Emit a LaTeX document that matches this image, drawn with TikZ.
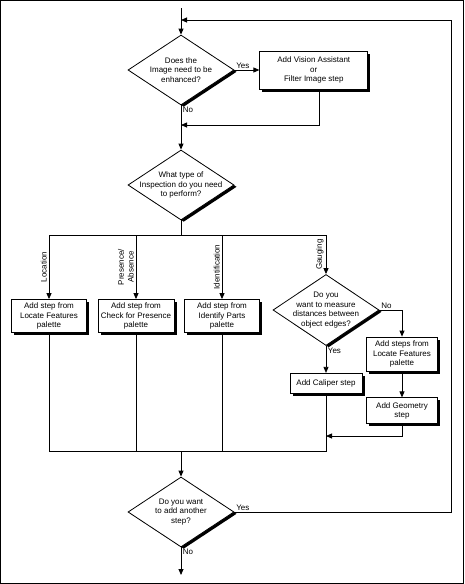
\documentclass[tikz,border=0pt]{standalone}
\usepackage{fontspec}
\setmainfont{Liberation Sans}
\usetikzlibrary{positioning,arrows.meta,shapes.geometric,shadows}

\begin{document}
\begin{tikzpicture}[
    x=1pt, y=-1pt,
    line width=0.8pt,
    font=\fontsize{8}{9.6}\selectfont,
    box/.style={draw, fill=white, align=center, inner sep=1pt, drop shadow={shadow xshift=2.5pt, shadow yshift=-2.5pt, fill=black, opacity=1}},
    decision/.style={diamond, draw, fill=white, minimum width=106pt, minimum height=70pt, inner sep=0pt, drop shadow={shadow xshift=2.7pt, shadow yshift=-1.8pt, fill=black, opacity=1}},
    qtext/.style={align=center, inner sep=0pt},
    branch/.style={rotate=90, anchor=south, align=center, inner sep=2pt},
    ans/.style={inner sep=1.5pt},
    arr/.style={-{Triangle[length=6pt, width=5pt]}}
  ]
    \useasboundingbox (0,0) rectangle (464,584);
    \draw[line width=1pt] (0.5,0.5) rectangle (463.5,583.5);

    % decisions and steps
    \node[decision, label={[qtext]center:Does the\\Image need to be\\enhanced?}] (q1) at (181,70) {};
    \node[box, right=25pt of q1, minimum width=108pt, minimum height=38pt] (filter) {Add Vision Assistant\\or\\Filter Image step};
    \node[decision, label={[qtext]center:What type of\\Inspection do you need\\to perform?}] (q2) at (181,185) {};

    \node[box, minimum width=75pt, minimum height=33pt] (loc) at (49,316) {Add step from\\Locate Features\\palette};
    \node[box, minimum width=76pt, minimum height=33pt] (pres) at (136,316) {Add step from\\Check for Presence\\palette};
    \node[box, minimum width=75pt, minimum height=33pt] (ident) at (222,316) {Add step from\\Identify Parts\\palette};

    \node[decision, minimum height=71pt, label={[qtext]center:Do you\\want to measure\\distances between\\object edges?}] (q3) at (326,310) {};
    \node[box, minimum width=71pt, minimum height=34pt] (locsteps) at (402,354) {Add steps from\\Locate Features\\palette};
    \node[box, below=27pt of q3, minimum width=72pt, minimum height=20pt] (caliper) {Add Caliper step};
    \node[box, below=26pt of locsteps, minimum width=71pt, minimum height=26pt] (geom) {Add Geometry\\step};

    \node[decision, label={[qtext]center:Do you want\\to add another\\step?}] (q4) at (181,512) {};

    % free ends and joints
    \coordinate (start) at (181,8);
    \coordinate (loopin) at (181,20);
    \coordinate (rail) at (451,20);
    \coordinate (merge1) at (181,125);
    \coordinate (split) at (181,235);
    \coordinate (merge2) at (326,436);
    \coordinate (join) at (181,451);
    \coordinate (finish) at (181,575);

    % connectors
    \draw[arr] (start) -- (q1.north);
    \draw[arr] (q1.east) node[ans, above right] {Yes} -- (filter.west);
    \draw[arr] ([xshift=6pt]filter.south) |- (merge1);
    \draw[arr] (q1.south) node[ans, below right] {No} -- (q2.north);
    \draw (q2.south) -- (split);
    \foreach \n/\t in {loc/Location, pres/{Presence/\\Absence}, ident/Identification, q3/Gauging}
      \draw[arr] (split) -| node[branch, pos=0.75] {\t} (\n.north);
    \draw[arr] (q3.east) node[ans, above right] {No} -| (locsteps.north);
    \draw[arr] (q3.south) node[ans, below right] {Yes} -- (caliper.north);
    \draw[arr] (locsteps.south) -- (geom.north);
    \draw[arr] (geom.south) |- (merge2);
    \foreach \n in {loc,pres,ident,caliper}
      \draw (\n.south) |- (join);
    \draw[arr] (join) -- (q4.north);
    \draw[arr] (q4.east) node[ans, above right] {Yes} -| (rail) -- (loopin);
    \draw[arr] (q4.south) node[ans, below right] {No} -- (finish);
\end{tikzpicture}
\end{document}
